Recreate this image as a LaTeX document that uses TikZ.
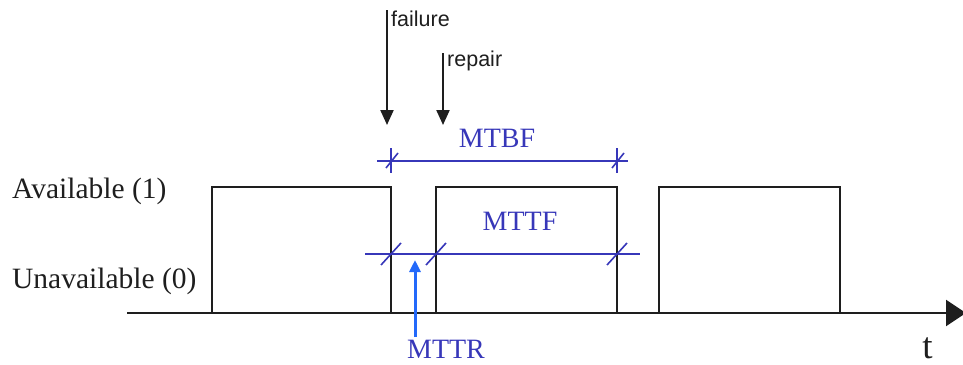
\documentclass[tikz,border=0pt]{standalone}
\usepackage{fontspec}
\setmainfont{Liberation Serif}
\newfontfamily\evfont{Liberation Sans}
\usetikzlibrary{arrows.meta}
\definecolor{dimblue}{RGB}{55,55,185}
\definecolor{brightblue}{RGB}{35,105,250}
\definecolor{ink}{RGB}{30,30,30}
\begin{document}
\begin{tikzpicture}[x=1pt,y=-1pt,
  pulse/.style={draw=ink,line width=2.4pt},
  dimline/.style={draw=dimblue,line width=1.8pt},
  tickmark/.style={draw=dimblue,line width=1.6pt},
  serlabel/.style={font=\fontsize{29.5}{31}\selectfont,text=ink,inner sep=0pt},
  bluelabel/.style={font=\fontsize{28}{30}\selectfont,text=dimblue,inner sep=0pt,anchor=base},
  evlabel/.style={font=\evfont\fontsize{21.5}{23}\selectfont,text=ink,inner sep=0pt,anchor=base west},
  evarrow/.style={draw=ink,line width=2.2pt,-{Triangle[length=15pt,width=13pt]}},
  mttrarrow/.style={draw=brightblue,line width=3pt,-{Triangle[length=12pt,width=11pt]}},
  axisarrow/.style={draw=ink,line width=2.4pt,-{Triangle[length=20pt,width=26pt]}}
]
\useasboundingbox (0,0) rectangle (963,364);

% time axis
\coordinate (ax0) at (127,313);
\coordinate (ax1) at (966,313);
\draw[axisarrow] (ax0) -- (ax1);

% pulses
\draw[pulse] (212,313) |- (391,187) -- (391,313);
\draw[pulse] (436,313) |- (617,187) -- (617,313);
\draw[pulse] (659,313) |- (840,187) -- (840,313);

% state labels
\node[serlabel,anchor=base west] (avail) at (12,198) {Available (1)};
\node[serlabel,anchor=base west] (unavail) at (12,288) {Unavailable (0)};
\node[inner sep=0pt,anchor=base,font=\fontsize{37}{39}\selectfont,text=ink] (tlab) at (927.5,358) {t};

% failure / repair events
\coordinate (f0) at (387,10);
\coordinate (f1) at (387,125);
\coordinate (r0) at (443,53);
\coordinate (r1) at (443,125);
\draw[evarrow] (f0) -- (f1);
\draw[evarrow] (r0) -- (r1);
\node[evlabel] (failure) at (391,27) {failure};
\node[evlabel] (repair) at (447,66) {repair};

% MTBF
\coordinate (b0) at (377,161);
\coordinate (b1) at (628,161);
\draw[dimline] (b0) -- (b1);
\foreach \x in {391,617}{
  \draw[tickmark] (\x,148) -- (\x,173);
  \draw[tickmark] (\x-5,168) -- (\x+7,153);
}
\node[bluelabel] (mtbf) at (497,147) {MTBF};

% MTTF
\coordinate (m0) at (365,254);
\coordinate (m1) at (640,254);
\draw[dimline] (m0) -- (m1);
\foreach \x in {391,436,617}{
  \draw[tickmark] (\x-10,265) -- (\x+10,243);
}
\node[bluelabel] (mttf) at (520,230) {MTTF};

% MTTR
\node[bluelabel] (mttr) at (446,358) {MTTR};
\coordinate (t0) at (415,337);
\coordinate (t1) at (415,260);
\draw[mttrarrow] (t0) -- (t1);
\end{tikzpicture}
\end{document}
